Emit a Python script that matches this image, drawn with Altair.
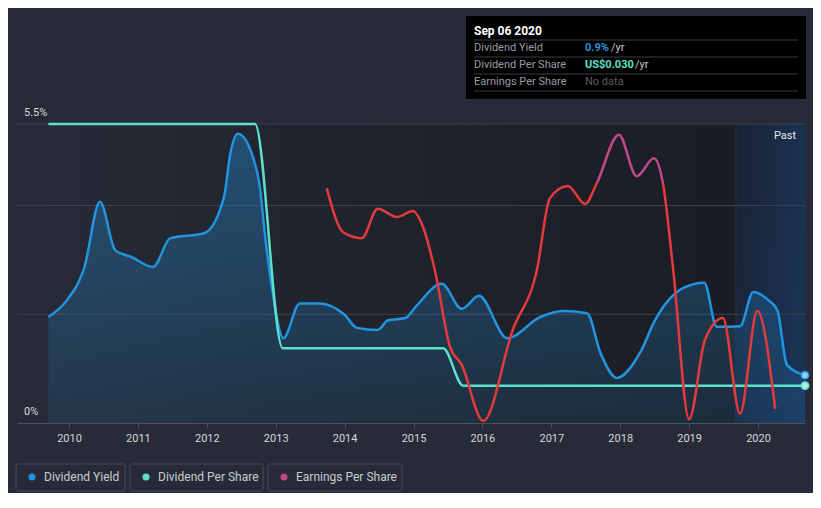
import altair as alt
import pandas as pd

# ---------------- data ----------------
dy_year = [2009.70, 2009.97, 2010.22, 2010.45, 2010.67, 2010.91, 2011.22, 2011.47, 2011.96,
           2012.25, 2012.34, 2012.45, 2012.67, 2012.77, 2012.84, 2012.95, 2013.11, 2013.35,
           2013.64, 2014.00, 2014.18, 2014.48, 2014.63, 2014.88, 2015.04, 2015.41, 2015.70,
           2015.95, 2016.36, 2016.84, 2017.17, 2017.52, 2017.71, 2017.95, 2018.29, 2018.51,
           2018.91, 2019.22, 2019.40, 2019.74, 2019.93, 2020.15, 2020.28, 2020.42, 2020.682]
dy_val = [1.95, 2.26, 2.85, 4.07, 3.18, 3.05, 2.87, 3.40, 3.49,
          4.16, 4.95, 5.32, 4.89, 4.34, 3.50, 2.45, 1.56, 2.20,
          2.20, 1.99, 1.75, 1.71, 1.89, 1.93, 2.15, 2.56, 2.10,
          2.34, 1.56, 1.95, 2.06, 2.02, 1.30, 0.83, 1.30, 1.90,
          2.48, 2.58, 1.77, 1.78, 2.41, 2.26, 2.08, 1.07, 0.88]

dps_year = [2009.70, 2012.70, 2013.10, 2015.43, 2015.72, 2020.682]
dps_val = [0.24, 0.24, 0.06, 0.06, 0.03, 0.03]

eps_year = [2013.74, 2013.98, 2014.25, 2014.48, 2014.76, 2014.99, 2015.14, 2015.31, 2015.53,
            2015.70, 2016.01, 2016.44, 2016.79, 2016.98, 2017.24, 2017.49, 2017.66, 2017.98,
            2018.24, 2018.49, 2018.62, 2018.77, 2019.00, 2019.23, 2019.49, 2019.74, 2019.99,
            2020.25]
eps_val = [4.32, 3.51, 3.40, 3.94, 3.79, 3.90, 3.60, 2.81, 1.40,
           1.07, 0.04, 1.71, 2.81, 4.14, 4.36, 4.03, 4.41, 5.30,
           4.54, 4.87, 4.41, 2.81, 0.07, 1.53, 1.93, 0.17, 2.06,
           0.26]

grid_vals = [2, 4, 5.5]
year_ticks = list(range(2010, 2021))

legend_labels = ["Dividend Yield", "Dividend Per Share", "Earnings Per Share"]
tip_title = "Sep 06 2020"
tip_rows = ["Dividend Yield", "Dividend Per Share", "Earnings Per Share"]
tip_vals = ["0.9%", "US$0.030", "No data"]

# ---------------- styling ----------------
BG = "#262b37"
BLUE = "#2394df"
TEAL = "#5de0c9"
RED = "#e5393b"
MAGENTA = "#c2478a"
FONT = "Roboto"

W, H = 788, 299
X0, X1 = 2009.245, 2020.682
PAST = 2019.68

XS = alt.Scale(domain=[X0, X1], nice=False, zero=False)
YS = alt.Scale(domain=[0, 5.5], nice=False)
DPS_S = alt.Scale(domain=[0, 0.24], nice=False)
XA = alt.Axis(values=year_ticks, format="d", title=None, grid=False,
              labelColor="#d5d7db", labelFontSize=11, labelFont=FONT,
              domainColor="#4b515d", tickColor="#4b515d", tickSize=5,
              labelPadding=4, labelFlush=False)

dy = pd.DataFrame({"year": dy_year, "value": dy_val})
dps = pd.DataFrame({"year": dps_year, "dps": dps_val})
eps = pd.DataFrame({"year": eps_year, "eps": eps_val})
one = pd.DataFrame({"a": [0]})

# plot background gradient
bgdf = pd.DataFrame({"x": [X0], "x2": [PAST], "y": [0], "y2": [5.5]})
bg = alt.Chart(bgdf).mark_rect(
    color=alt.Gradient(gradient="linear", x1=0, x2=1, y1=0, y2=0,
                       stops=[alt.GradientStop(offset=0, color=BG),
                              alt.GradientStop(offset=0.35, color="#21252f"),
                              alt.GradientStop(offset=1, color="#1a1d24")])
).encode(x=alt.X("x:Q", scale=XS, axis=XA), x2="x2",
         y=alt.Y("y:Q", scale=YS, axis=None), y2="y2")

pastdf = pd.DataFrame({"x": [PAST], "x2": [X1], "y": [0], "y2": [5.5]})
past = alt.Chart(pastdf).mark_rect(
    color=alt.Gradient(gradient="linear", x1=0, x2=1, y1=0, y2=0.3,
                       stops=[alt.GradientStop(offset=0, color="#192232"),
                              alt.GradientStop(offset=1, color="#1b3254")])
).encode(x=alt.X("x:Q", scale=XS, axis=XA), x2="x2",
         y=alt.Y("y:Q", scale=YS, axis=None), y2="y2")
past_edge = alt.Chart(pastdf).mark_rule(color="#22314a", strokeWidth=1).encode(
    x=alt.X("x:Q", scale=XS, axis=XA), y=alt.value(0), y2=alt.value(H))

grid = alt.Chart(pd.DataFrame({"g": grid_vals})).mark_rule(color="#3d424e", strokeWidth=1).encode(
    y=alt.Y("g:Q", scale=YS, axis=None), x=alt.value(0), x2=alt.value(W))

area = alt.Chart(dy).mark_area(
    interpolate="monotone",
    color=alt.Gradient(gradient="linear", x1=0, x2=0, y1=0, y2=1,
                       stops=[alt.GradientStop(offset=0, color="rgba(35,148,223,0.38)"),
                              alt.GradientStop(offset=1, color="rgba(35,148,223,0.12)")])
).encode(x=alt.X("year:Q", scale=XS, axis=XA), y=alt.Y("value:Q", scale=YS, axis=None))

dy_line = alt.Chart(dy).mark_line(interpolate="monotone", color=BLUE, strokeWidth=2.5).encode(
    x=alt.X("year:Q", scale=XS, axis=XA), y=alt.Y("value:Q", scale=YS, axis=None))

dps_line = alt.Chart(dps).mark_line(interpolate="monotone", color=TEAL, strokeWidth=2.5).encode(
    x=alt.X("year:Q", scale=XS, axis=XA), y=alt.Y("dps:Q", scale=DPS_S, axis=None))

eps_line = alt.Chart(eps).mark_line(
    interpolate="monotone", strokeWidth=2.5,
    color=alt.Gradient(gradient="linear", x1=0, x2=0, y1=0, y2=1,
                       stops=[alt.GradientStop(offset=0, color=MAGENTA),
                              alt.GradientStop(offset=0.165, color=MAGENTA),
                              alt.GradientStop(offset=0.166, color=RED),
                              alt.GradientStop(offset=1, color=RED)])
).encode(x=alt.X("year:Q", scale=XS, axis=XA), y=alt.Y("eps:Q", scale=YS, axis=None))

dy_dot = alt.Chart(dy.tail(1)).mark_point(filled=True, size=55, fill="#8ccdf5", stroke=BLUE,
                                          strokeWidth=1.5, opacity=1).encode(
    x=alt.X("year:Q", scale=XS, axis=XA), y=alt.Y("value:Q", scale=YS, axis=None))
dps_dot = alt.Chart(dps.tail(1)).mark_point(filled=True, size=55, fill="#a8f0e3", stroke=TEAL,
                                            strokeWidth=1.5, opacity=1).encode(
    x=alt.X("year:Q", scale=XS, axis=XA), y=alt.Y("dps:Q", scale=DPS_S, axis=None))


def txt(text, x, y, color, size=11, align="left", weight="normal"):
    return alt.Chart(one).mark_text(align=align, baseline="middle", font=FONT, fontSize=size,
                                    color=color, fontWeight=weight).encode(
        x=alt.value(x), y=alt.value(y), text=alt.value(text))


def box(x, x2, y, y2, fill=None, stroke=None, radius=0):
    kw = {}
    if fill is not None:
        kw["fill"] = fill
    else:
        kw["fillOpacity"] = 0
    if stroke is not None:
        kw["stroke"] = stroke
        kw["strokeWidth"] = 1
    return alt.Chart(one).mark_rect(cornerRadius=radius, **kw).encode(
        x=alt.value(x), x2=alt.value(x2), y=alt.value(y), y2=alt.value(y2))


def hline(x, x2, y, color):
    return alt.Chart(one).mark_rule(color=color, strokeWidth=1).encode(
        x=alt.value(x), x2=alt.value(x2), y=alt.value(y))


layers = [bg, past, past_edge, grid, area, dy_line, dps_line, eps_line, dy_dot, dps_dot,
          txt("5.5%", 7, -11, "#d8dadd"), txt("0%", 7, 288, "#d8dadd"),
          txt("Past", 768, 12, "#e8e9eb", align="center")]

# tooltip panel
layers += [box(449, 789, -108, -25, fill="#000000"),
           txt(tip_title, 457, -93, "#ffffff", size=12, weight="bold")]
for yy in [-84, -67, -50, -33]:
    layers.append(hline(457, 781, yy, "#3a3c40"))
row_y = [-76, -59, -42]
val_colors = [BLUE, TEAL, "#5c5f64"]
for i in range(3):
    layers.append(txt(tip_rows[i], 457, row_y[i], "#9a9ca1"))
    layers.append(txt(tip_vals[i], 568, row_y[i], val_colors[i], weight="bold" if i < 2 else "normal"))
layers.append(txt("/yr", 594, row_y[0], "#c8c9cc"))
layers.append(txt("/yr", 618, row_y[1], "#c8c9cc"))

# legend
leg_box = [(-1, 108), (113, 246), (251, 385)]
leg_dot = [15, 129, 267]
leg_col = [BLUE, TEAL, MAGENTA]
for i in range(3):
    layers.append(box(leg_box[i][0], leg_box[i][1], 340, 367, stroke="#464c58", radius=2))
    layers.append(alt.Chart(one).mark_circle(size=50, color=leg_col[i], opacity=1).encode(
        x=alt.value(leg_dot[i]), y=alt.value(353)))
    layers.append(txt(legend_labels[i], leg_dot[i] + 12, 353, "#c9cbd0", size=12))

chart = alt.layer(*layers).resolve_scale(y="independent").properties(
    width=W, height=H,
    padding={"left": 9, "top": 116, "right": 8, "bottom": 70},
    autosize=alt.AutoSizeParams(type="none"),
    background=BG,
).configure_view(stroke=None)

chart.save("out.html", embed_options={"renderer": "svg", "actions": False})
